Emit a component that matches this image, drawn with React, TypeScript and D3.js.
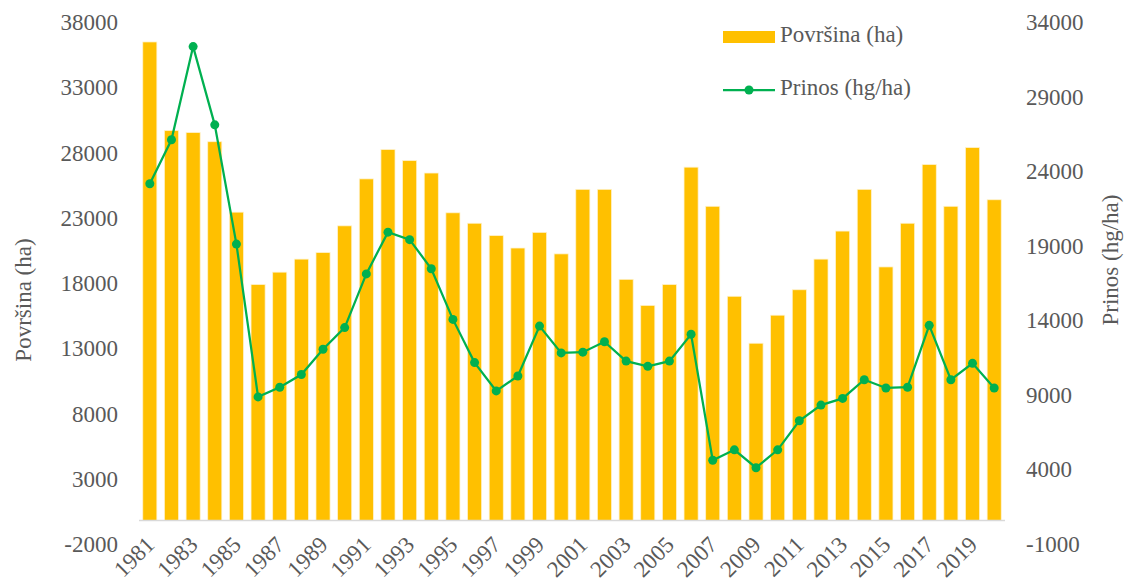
import { line, scaleBand, scaleLinear } from 'd3';
import React from 'react';

const years = [
  1981, 1982, 1983, 1984, 1985, 1986, 1987, 1988, 1989, 1990,
  1991, 1992, 1993, 1994, 1995, 1996, 1997, 1998, 1999, 2000,
  2001, 2002, 2003, 2004, 2005, 2006, 2007, 2008, 2009, 2010,
  2011, 2012, 2013, 2014, 2015, 2016, 2017, 2018, 2019, 2020,
];

// Površina (ha)
const povrsina = [
  36700, 29900, 29750, 29050, 23650, 18100, 19050, 20050, 20550, 22600,
  26200, 28450, 27600, 26650, 23600, 22800, 21850, 20900, 22100, 20450,
  25400, 25400, 18500, 16500, 18100, 27100, 24100, 17200, 13600, 15750,
  17700, 20050, 22200, 25400, 19450, 22800, 27300, 24100, 28600, 24600,
];

// Prinos (hg/ha)
const prinos = [
  23350, 26300, 32550, 27300, 19300, 9050, 9700, 10550, 12250, 13700,
  17300, 20100, 19600, 17650, 14250, 11350, 9450, 10450, 13800, 12000,
  12050, 12750, 11450, 11100, 11450, 13250, 4800, 5500, 4300, 5500,
  7450, 8500, 8950, 10200, 9650, 9700, 13850, 10200, 11300, 9650,
];

const leftTicks = [-2000, 3000, 8000, 13000, 18000, 23000, 28000, 33000, 38000];
const rightTicks = [-1000, 4000, 9000, 14000, 19000, 24000, 29000, 34000];

const W = 1128;
const H = 581;
const TEXT = '#595959';
const BAR = '#FFC000';
const GREEN = '#00B050';
const font = { fontFamily: 'Liberation Serif', fontSize: 23, fill: TEXT };

const x = scaleBand()
  .domain(years.map(String))
  .range([139, 1005])
  .paddingInner(0.35)
  .paddingOuter(0.175);

const yLeft = scaleLinear().domain([-2000, 38000]).range([546.7, 25]);
const yRight = scaleLinear().domain([-1000, 34000]).range([546.7, 25]);

const cx = (i: number) => (x(String(years[i])) as number) + x.bandwidth() / 2;

const prinosPath = line<number>()
  .x((d, i) => cx(i))
  .y(d => yRight(d));

export default function App() {
  return (
    <svg
      width={W}
      height={H}
      style={{ position: 'absolute', left: 0, top: 0, background: '#fff' }}
    >
      {/* bars */}
      <g>
        {povrsina.map((d, i) => (
          <rect
            key={years[i]}
            x={x(String(years[i]))}
            y={yLeft(d)}
            width={x.bandwidth()}
            height={yLeft(0) - yLeft(d)}
            fill={BAR}
            stroke="#fff2cc"
            strokeWidth={0.75}
          />
        ))}
      </g>

      {/* category axis at zero */}
      <line x1={139} x2={1005} y1={yLeft(0)} y2={yLeft(0)} stroke="#d9d9d9" strokeWidth={1.5} />

      {/* yield line */}
      <path d={prinosPath(prinos) || ''} fill="none" stroke={GREEN} strokeWidth={2.25} />
      {prinos.map((d, i) => (
        <circle key={years[i]} cx={cx(i)} cy={yRight(d)} r={4.5} fill={GREEN} />
      ))}

      {/* left ticks */}
      {leftTicks.map(t => (
        <text key={t} x={118} y={yLeft(t)} textAnchor="end" dominantBaseline="middle" style={font}>
          {t}
        </text>
      ))}

      {/* right ticks */}
      {rightTicks.map(t => (
        <text key={t} x={1026} y={yRight(t)} textAnchor="start" dominantBaseline="middle" style={font}>
          {t}
        </text>
      ))}

      {/* year labels, every other one */}
      {years
        .filter((d, i) => i % 2 === 0)
        .map(d => (
          <text
            key={d}
            textAnchor="end"
            transform={`translate(${cx(years.indexOf(d)) + 6},546) rotate(-45)`}
            style={font}
          >
            {d}
          </text>
        ))}

      {/* axis titles */}
      <text transform="translate(31,300) rotate(-90)" textAnchor="middle" style={font}>
        Površina (ha)
      </text>
      <text transform="translate(1118,260) rotate(-90)" textAnchor="middle" style={font}>
        Prinos (hg/ha)
      </text>

      {/* legend */}
      <rect x={723} y={31} width={52} height={12} fill={BAR} />
      <text x={780} y={37} dominantBaseline="middle" style={font}>
        Površina (ha)
      </text>
      <line x1={723} x2={775} y1={90} y2={90} stroke={GREEN} strokeWidth={2.25} />
      <circle cx={749} cy={90} r={4.5} fill={GREEN} />
      <text x={780} y={90} dominantBaseline="middle" style={font}>
        Prinos (hg/ha)
      </text>
    </svg>
  );
}
